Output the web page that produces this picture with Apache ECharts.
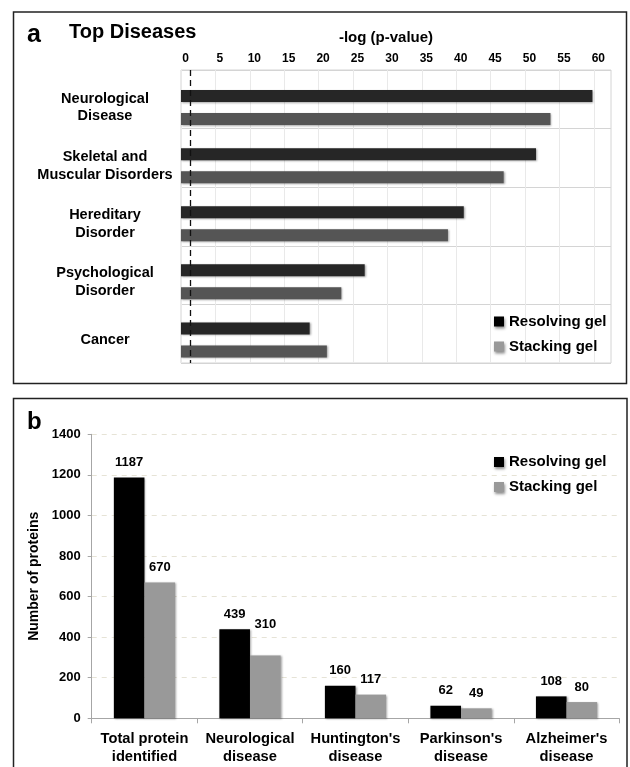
<!DOCTYPE html>
<html>
<head>
<meta charset="utf-8">
<title>Top Diseases / Number of proteins</title>
<script src="https://cdn.jsdelivr.net/npm/echarts@6/dist/echarts.min.js"></script>
<style>
  html, body { margin: 0; padding: 0; background: #fff; }
  #chart { width: 630px; height: 767px; }
</style>
</head>
<body>
<div id="chart"></div>
<script>
// Panel a: enrichment of disease categories, -log(p-value)
const diseaseCategories = [
  'Neurological\nDisease',
  'Skeletal and\nMuscular Disorders',
  'Hereditary\nDisorder',
  'Psychological\nDisorder',
  'Cancer'
];
const resolvingLogP = [59.8, 51.6, 41.1, 26.7, 18.7];
const stackingLogP = [53.7, 46.9, 38.8, 23.3, 21.2];
const logPTicks = [0, 5, 10, 15, 20, 25, 30, 35, 40, 45, 50, 55, 60];
const significanceThreshold = 1.3; // -log10(0.05)

// Panel b: number of proteins per category
const proteinCategories = [
  'Total protein\nidentified',
  'Neurological\ndisease',
  "Huntington's\ndisease",
  "Parkinson's\ndisease",
  "Alzheimer's\ndisease"
];
const resolvingCounts = [1187, 439, 160, 62, 108];
const stackingCounts = [670, 310, 117, 49, 80];
const countTicks = [0, 200, 400, 600, 800, 1000, 1200, 1400];

const seriesNames = ['Resolving gel', 'Stacking gel'];

const FONT = '"Liberation Sans", Arial, Helvetica, sans-serif';
const bold = (size) => ({ fontFamily: FONT, fontWeight: 'bold', fontSize: size, color: '#000' });

const barShadow = { shadowBlur: 2, shadowOffsetX: 1, shadowOffsetY: 1, shadowColor: 'rgba(0,0,0,0.35)' };
const legendIconShadow = { shadowBlur: 3, shadowOffsetX: 1, shadowOffsetY: 2, shadowColor: 'rgba(0,0,0,0.45)' };
const legendItems = [
  { name: seriesNames[0], itemStyle: Object.assign({ color: '#000000' }, legendIconShadow) },
  { name: seriesNames[1], itemStyle: Object.assign({ color: '#999999' }, legendIconShadow) }
];

// the 310 label sits higher so it clears the neighbouring 439 label
const raisedLabelIndex = 1;
const stackingCountData = stackingCounts.map((v, i) =>
  i === raisedLabelIndex ? { value: v, label: { offset: [0, -16] } } : v
);

const chart = echarts.init(document.getElementById('chart'), null, { renderer: 'canvas' });

chart.setOption({
  animation: false,
  backgroundColor: '#ffffff',
  textStyle: { fontFamily: FONT },
  graphic: [
    { type: 'rect', shape: { x: 13.5, y: 12, width: 613, height: 371.5 },
      style: { fill: 'none', stroke: '#222', lineWidth: 1.5 } },
    { type: 'rect', shape: { x: 13.5, y: 398.5, width: 613.5, height: 420 },
      style: { fill: 'none', stroke: '#222', lineWidth: 1.5 } },
    { type: 'text', x: 27, y: 35,
      style: { text: 'a', font: 'bold 25px ' + FONT, fill: '#000', align: 'left', verticalAlign: 'middle' } },
    { type: 'text', x: 69, y: 32,
      style: { text: 'Top Diseases', font: 'bold 20px ' + FONT, fill: '#000', align: 'left', verticalAlign: 'middle' } },
    { type: 'text', x: 386, y: 38,
      style: { text: '-log (p-value)', font: 'bold 15px ' + FONT, fill: '#000', align: 'center', verticalAlign: 'middle' } },
    { type: 'text', x: 27, y: 422,
      style: { text: 'b', font: 'bold 24px ' + FONT, fill: '#000', align: 'left', verticalAlign: 'middle' } }
  ],
  legend: [
    {
      orient: 'vertical', left: 489, top: 309,
      itemWidth: 10, itemHeight: 10, itemGap: 10, icon: 'rect',
      textStyle: bold(15), data: legendItems, selectedMode: false
    },
    {
      orient: 'vertical', left: 489, top: 449.5,
      itemWidth: 10, itemHeight: 10, itemGap: 10, icon: 'rect',
      textStyle: bold(15), data: legendItems, selectedMode: false
    }
  ],
  grid: [
    { left: 181, width: 430, top: 78.5, height: 290.5 },
    { left: 181, width: 430, top: 70, height: 293, show: true, borderColor: '#d4d4d4', borderWidth: 1 },
    { left: 91.7, width: 527.6, top: 434.3, height: 284 }
  ],
  xAxis: [
    { gridIndex: 0, type: 'value', min: 0, max: 62.5, show: false },
    {
      gridIndex: 1, type: 'value', position: 'top', min: 0, max: 62.5, interval: 5,
      axisLine: { show: false }, axisTick: { show: false },
      axisLabel: Object.assign(bold(12), {
        margin: 5, padding: [0, 0, 0, 9],
        formatter: (v) => (logPTicks.indexOf(v) >= 0 ? String(v) : '')
      }),
      splitLine: { show: true, lineStyle: { color: '#e9e9e9', width: 1 } }
    },
    {
      gridIndex: 2, type: 'category', data: proteinCategories,
      axisLine: { lineStyle: { color: '#a6a6a6', width: 1 } },
      axisTick: { show: true, length: 5, lineStyle: { color: '#a6a6a6' } },
      axisLabel: Object.assign(bold(14.7), { margin: 11, lineHeight: 18.4, interval: 0 })
    }
  ],
  yAxis: [
    {
      gridIndex: 0, type: 'category', inverse: true, data: diseaseCategories,
      axisLine: { show: false }, axisTick: { show: false }, splitLine: { show: false },
      axisLabel: Object.assign(bold(14.5), { margin: 76, align: 'center', lineHeight: 17.7, interval: 0 })
    },
    {
      gridIndex: 1, type: 'category', inverse: true, data: diseaseCategories,
      axisLine: { show: false }, axisTick: { show: false }, axisLabel: { show: false },
      splitLine: { show: true, lineStyle: { color: '#d4d4d4', width: 1 } }
    },
    {
      gridIndex: 2, type: 'value', min: 0, max: 1400, interval: 200,
      name: 'Number of proteins', nameLocation: 'middle', nameGap: 44, nameRotate: 90,
      nameTextStyle: bold(14),
      axisLine: { show: true, lineStyle: { color: '#a6a6a6', width: 1 } },
      axisTick: { show: true, length: 4, lineStyle: { color: '#a6a6a6' } },
      axisLabel: Object.assign(bold(13), {
        margin: 11,
        formatter: (v) => (countTicks.indexOf(v) >= 0 ? String(v) : '')
      }),
      splitLine: { show: true, lineStyle: { color: '#e6e3d6', type: [5, 5], width: 1 } }
    }
  ],
  series: [
    {
      name: seriesNames[0], type: 'bar', xAxisIndex: 0, yAxisIndex: 0,
      data: resolvingLogP, barWidth: 12, barGap: '92%',
      itemStyle: Object.assign({ color: '#262626' }, barShadow)
    },
    {
      name: seriesNames[1], type: 'bar', xAxisIndex: 0, yAxisIndex: 0,
      data: stackingLogP, barWidth: 12, barGap: '92%',
      itemStyle: Object.assign({ color: '#555555' }, barShadow)
    },
    {
      name: 'p = 0.05', type: 'line', xAxisIndex: 1, yAxisIndex: 1, data: [],
      markLine: {
        silent: true, symbol: 'none', label: { show: false },
        lineStyle: { color: '#111', type: [6, 4], width: 1.3 },
        data: [{ xAxis: significanceThreshold }]
      }
    },
    {
      name: seriesNames[0], type: 'bar', xAxisIndex: 2, yAxisIndex: 2,
      data: resolvingCounts, barGap: '0%', barCategoryGap: '42%',
      itemStyle: Object.assign({ color: '#000000' }, barShadow),
      label: Object.assign(bold(13), { show: true, position: 'top', distance: 8.5 })
    },
    {
      name: seriesNames[1], type: 'bar', xAxisIndex: 2, yAxisIndex: 2,
      data: stackingCountData, barGap: '0%', barCategoryGap: '42%',
      itemStyle: Object.assign({ color: '#999999' }, barShadow),
      label: Object.assign(bold(13), { show: true, position: 'top', distance: 8.5 })
    }
  ]
});
</script>
</body>
</html>
